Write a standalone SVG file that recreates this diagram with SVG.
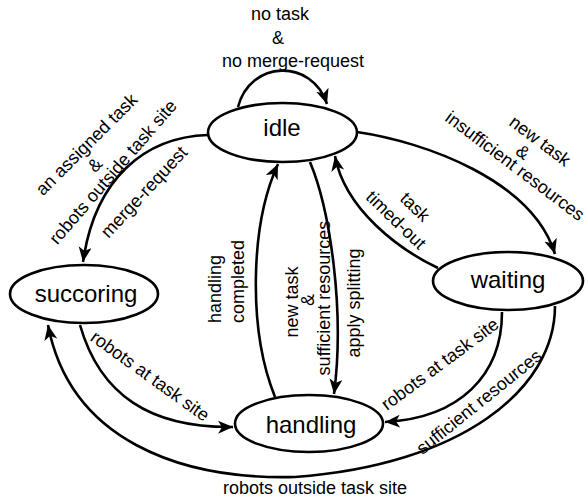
<svg xmlns="http://www.w3.org/2000/svg" width="588" height="501" viewBox="0 0 588 501">
<style>
.node{fill:#fff;stroke:#000;stroke-width:2.6}
.edge{fill:none;stroke:#000;stroke-width:2.6;marker-end:url(#ah)}
.nl{font-family:"Liberation Sans",Arial,sans-serif;font-size:24px;fill:#000;text-anchor:middle}
.el{font-family:"Liberation Sans",Arial,sans-serif;font-size:18px;fill:#000;text-anchor:middle}
.st{text-anchor:start}
</style>
<defs>
<marker id="ah" markerUnits="userSpaceOnUse" markerWidth="16" markerHeight="14" refX="15" refY="6.5" orient="auto">
<path d="M0,0 L15,6.5 L0,13 L4,6.5 z" fill="#000"/>
</marker>
</defs>
<rect width="588" height="501" fill="#fff"/>
<g id="connectors">
<path class="edge" d="M238,107 C250,60 312,58 327,104"/>
<path class="edge" d="M208,135 C145,137 95,178 83,262"/>
<path class="edge" d="M357,132 C425,142 532,180 555,254"/>
<path class="edge" d="M438,268 C400,250 345,210 335,156"/>
<path class="edge" d="M275,397 C248,330 250,225 278,164"/>
<path class="edge" d="M310,162 C330,210 345,310 334,394"/>
<path class="edge" d="M80,325 C100,395 150,428 233,427"/>
<path class="edge" d="M502,312 C502,375 460,418 385,422"/>
<path class="edge" d="M555,306 C555,390 460,465 295,477 C180,480 70,440 48,325"/>
</g>
<g id="labels">
<text class="el" x="280" y="20">no task</text>
<text class="el" x="278" y="44">&amp;</text>
<text class="el" x="293" y="67">no merge-request</text>
<text class="el" transform="translate(86.5,144.5) rotate(-45)" y="6">an assigned task</text>
<text class="el" transform="translate(95,165) rotate(-47)" y="6">&amp;</text>
<text class="el" transform="translate(113,172) rotate(-49)" y="6">robots outside task site</text>
<text class="el" transform="translate(144,192) rotate(-47)" y="6">merge-request</text>
<text class="el" transform="translate(540,141) rotate(37)" y="6">new task</text>
<text class="el" transform="translate(523,152) rotate(37)" y="6">&amp;</text>
<text class="el" transform="translate(515,166) rotate(37)" y="6">insufficient resources</text>
<text class="el" transform="translate(415,207) rotate(44)" y="6">task</text>
<text class="el" transform="translate(396,220) rotate(44)" y="6">timed-out</text>
<text class="el st" transform="translate(221,323) rotate(-90)">handling</text>
<text class="el st" transform="translate(244,323) rotate(-90)">completed</text>
<text class="el" transform="translate(298,302) rotate(-90)">new task</text>
<text class="el" transform="translate(314,300) rotate(-90)">&amp;</text>
<text class="el" transform="translate(330,298) rotate(-90)">sufficient resources</text>
<text class="el" transform="translate(360,303) rotate(-90)">apply splitting</text>
<text class="el" transform="translate(150,376) rotate(35.7)" y="6">robots at task site</text>
<text class="el" transform="translate(440,364) rotate(-36.7)" y="6">robots at task site</text>
<text class="el" transform="translate(479,402) rotate(-38.8)" y="6">sufficient resources</text>
<text class="el" x="315" y="494">robots outside task site</text>
</g>
<g id="idle">
<ellipse class="node" cx="282.5" cy="132.5" rx="74.5" ry="29.5"/>
<text class="nl" x="282" y="136">idle</text>
</g>
<g id="succoring">
<ellipse class="node" cx="84" cy="294" rx="74" ry="29"/>
<text class="nl" x="86" y="302">succoring</text>
</g>
<g id="waiting">
<ellipse class="node" cx="508" cy="281" rx="75" ry="29"/>
<text class="nl" x="508" y="288">waiting</text>
</g>
<g id="handling">
<ellipse class="node" cx="309" cy="423.5" rx="74" ry="28.5"/>
<text class="nl" x="311" y="433">handling</text>
</g>
</svg>
